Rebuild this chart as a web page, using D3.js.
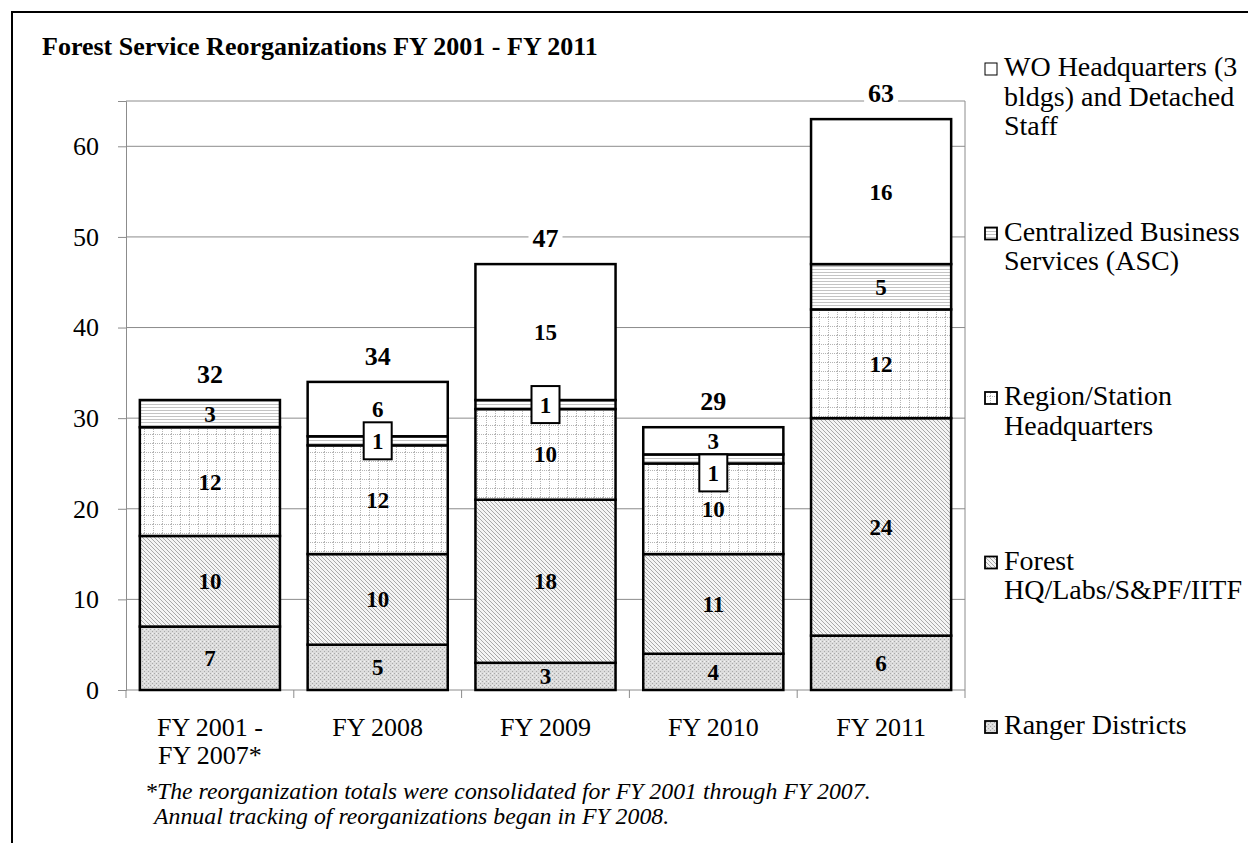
<!DOCTYPE html>
<html>
<head>
<meta charset="utf-8">
<script src="https://cdn.jsdelivr.net/npm/d3@7"></script>
<style>
  body { margin: 0; background: #fff; }
  text { font-family: "Liberation Serif", "Times New Roman", serif; }
</style>
</head>
<body>
<svg id="chart" width="1248" height="843"></svg>
<script>
// data, bottom to top
const years = ["FY 2001 - FY 2007*", "FY 2008", "FY 2009", "FY 2010", "FY 2011"];
const seriesNames = ["Ranger Districts", "Forest HQ/Labs/S&PF/IITF", "Region/Station Headquarters",
                     "Centralized Business Services (ASC)", "WO Headquarters (3 bldgs) and Detached Staff"];
const ranger = [7, 5, 3, 4, 6];
const forest = [10, 10, 18, 11, 24];
const region = [12, 12, 10, 10, 12];
const asc    = [3, 1, 1, 1, 5];
const wo     = [0, 6, 15, 3, 16];
const yTicks = [0, 10, 20, 30, 40, 50, 60];

const keys = ["ranger", "forest", "region", "asc", "wo"];
const table = years.map((y, i) => ({year: y, ranger: ranger[i], forest: forest[i], region: region[i], asc: asc[i], wo: wo[i]}));

const width = 1248, height = 843;
const margin = {left: 126, top: 101, right: 283, bottom: 153};
const plotW = width - margin.left - margin.right;
const plotH = height - margin.top - margin.bottom;

const svg = d3.select("#chart");

// fill patterns (grey hatches like the office chart)
const defs = svg.append("defs");
let p = defs.append("pattern").attr("id", "p-ranger").attr("patternUnits", "userSpaceOnUse").attr("width", 4).attr("height", 4);
p.append("rect").attr("width", 4).attr("height", 4).attr("fill", "#dcdcdc");
p.append("rect").attr("x", 0).attr("y", 0).attr("width", 1).attr("height", 1).attr("fill", "#a8a8a8");
p.append("rect").attr("x", 2).attr("y", 2).attr("width", 1).attr("height", 1).attr("fill", "#a8a8a8");
p.append("rect").attr("x", 2).attr("y", 0).attr("width", 1).attr("height", 1).attr("fill", "#f4f4f4");

p = defs.append("pattern").attr("id", "p-forest").attr("patternUnits", "userSpaceOnUse").attr("width", 4).attr("height", 4);
p.append("rect").attr("width", 4).attr("height", 4).attr("fill", "#f4f4f4");
p.append("path").attr("d", "M0,0L4,4M-1,3L1,5M3,-1L5,1").attr("stroke", "#a8a8a8").attr("stroke-width", 1);

p = defs.append("pattern").attr("id", "p-region").attr("patternUnits", "userSpaceOnUse").attr("width", 9).attr("height", 9);
p.append("rect").attr("width", 9).attr("height", 9).attr("fill", "#fff");
p.append("path").attr("d", "M0.5,0V9M0,0.5H9").attr("stroke", "#b4b4b4").attr("stroke-width", 1).attr("stroke-dasharray", "1,1");

p = defs.append("pattern").attr("id", "p-asc").attr("patternUnits", "userSpaceOnUse").attr("width", 4).attr("height", 3);
p.append("rect").attr("width", 4).attr("height", 3).attr("fill", "#fff");
p.append("path").attr("d", "M0,0.5H4").attr("stroke", "#c4c4c4").attr("stroke-width", 1);

const fills = {ranger: "url(#p-ranger)", forest: "url(#p-forest)", region: "url(#p-region)", asc: "url(#p-asc)", wo: "#fff"};

// outer frame
svg.append("path").attr("d", "M12," + (height + 5) + "V12H" + (width + 5))
  .attr("fill", "none").attr("stroke", "#000").attr("stroke-width", 2);

// title
svg.append("text").attr("x", 42).attr("y", 55)
  .attr("font-size", 26).attr("font-weight", "bold")
  .text("Forest Service Reorganizations FY 2001 - FY 2011");

const g = svg.append("g").attr("transform", `translate(${margin.left},${margin.top})`);

const x = d3.scaleBand().domain(years).range([0, plotW]).paddingInner(0.165).paddingOuter(0.0825);
const y = d3.scaleLinear().domain([0, 65]).range([plotH, 0]);

// gridlines
g.append("g").selectAll("line").data(yTicks.filter(d => d > 0)).join("line")
  .attr("x1", 0).attr("x2", plotW).attr("y1", d => y(d)).attr("y2", d => y(d))
  .attr("stroke", "#8c8c8c").attr("stroke-width", 1);

// plot frame top/right
g.append("path").attr("d", `M0,0H${plotW}V${plotH}`).attr("fill", "none").attr("stroke", "#8c8c8c").attr("stroke-width", 1);

// y axis
const yAxis = g.append("g").call(d3.axisLeft(y).tickValues(yTicks).tickSize(8).tickPadding(19));
yAxis.select(".domain").attr("stroke", "#8c8c8c");
yAxis.selectAll(".tick line").attr("stroke", "#8c8c8c");
yAxis.selectAll("text").attr("font-size", 26).attr("fill", "#000");

// x axis
g.append("line").attr("x1", 0).attr("x2", plotW).attr("y1", plotH).attr("y2", plotH).attr("stroke", "#8c8c8c");
const step = x.step();
g.append("g").selectAll("line").data(d3.range(years.length + 1)).join("line")
  .attr("x1", i => i * step).attr("x2", i => i * step)
  .attr("y1", plotH).attr("y2", plotH + 8).attr("stroke", "#8c8c8c");

const xl = g.append("g").selectAll("text").data(years).join("text")
  .attr("x", d => x(d) + x.bandwidth() / 2).attr("y", plotH + 46)
  .attr("text-anchor", "middle").attr("font-size", 26);
xl.each(function(d) {
  const t = d3.select(this);
  if (d.indexOf(" - ") >= 0) {
    const parts = d.split(" - ");
    t.append("tspan").attr("x", x(d) + x.bandwidth() / 2).attr("dy", 0).text(parts[0] + " -");
    t.append("tspan").attr("x", x(d) + x.bandwidth() / 2).attr("dy", 28).text(parts[1]);
  } else {
    t.text(d);
  }
});

// stacked bars
const stack = d3.stack().keys(keys)(table);
const layers = g.append("g").selectAll("g").data(stack).join("g").attr("fill", d => fills[d.key]);
layers.selectAll("rect").data(d => d.filter(s => s[1] - s[0] > 0)).join("rect")
  .attr("x", d => x(d.data.year)).attr("width", x.bandwidth())
  .attr("y", d => y(d[1])).attr("height", d => y(d[0]) - y(d[1]))
  .attr("stroke", "#000").attr("stroke-width", 2.5);

// segment labels; a one-unit slice gets a boxed label, pushed down if it hits the label above
const segG = g.append("g");
const boxW = 28, boxH = 37, fs = 23;
years.forEach((yr, i) => {
  const cx = x(yr) + x.bandwidth() / 2;
  const segs = stack.map(layer => layer[i]).filter(s => s[1] - s[0] > 0);
  segs.forEach((s, j) => {
    const v = s[1] - s[0];
    let cy = y((s[0] + s[1]) / 2);
    if (v === 1) {
      const above = segs[j + 1];
      if (above) {
        const aboveBottom = y((above[0] + above[1]) / 2) + 10;
        if (cy - boxH / 2 < aboveBottom) cy = y(s[1]) + boxH / 2;
      }
      segG.append("rect").attr("x", cx - boxW / 2).attr("y", cy - boxH / 2).attr("width", boxW).attr("height", boxH)
        .attr("fill", "#fff").attr("stroke", "#000").attr("stroke-width", 2);
    }
    segG.append("text").attr("x", cx).attr("y", cy + 8).attr("text-anchor", "middle")
      .attr("font-size", fs).attr("font-weight", "bold").text(v);
  });
});

// totals
const totals = table.map(d => ({year: d.year, total: keys.reduce((a, k) => a + d[k], 0)}));
const totG = g.append("g");
totals.forEach(d => {
  const cx = x(d.year) + x.bandwidth() / 2;
  const t = totG.append("text").attr("x", cx).attr("y", y(d.total) - 17)
    .attr("text-anchor", "middle").attr("font-size", 26).attr("font-weight", "bold").text(d.total);
  const bb = t.node().getBBox();
  totG.insert("rect", () => t.node()).attr("x", bb.x - 4).attr("y", bb.y + 3).attr("width", bb.width + 8).attr("height", bb.height - 6).attr("fill", "#fff");
});

// legend, top entry first
const legendLines = [
  ["WO Headquarters (3", "bldgs) and Detached", "Staff"],
  ["Centralized Business", "Services (ASC)"],
  ["Region/Station", "Headquarters"],
  ["Forest", "HQ/Labs/S&PF/IITF"],
  ["Ranger Districts"]
];
const legendKeys = ["wo", "asc", "region", "forest", "ranger"];
const lg = svg.append("g");
legendKeys.forEach((k, i) => {
  const ly = 76 + i * 164.5;
  lg.append("rect").attr("x", 985).attr("y", ly - 13).attr("width", 12).attr("height", 12)
    .attr("fill", fills[k]).attr("stroke", "#000").attr("stroke-width", k === "wo" ? 1 : 1.8);
  const t = lg.append("text").attr("x", 1004).attr("y", ly).attr("font-size", 28);
  legendLines[i].forEach((line, j) => {
    t.append("tspan").attr("x", 1004).attr("dy", j === 0 ? 0 : 29.5).text(line);
  });
});

// footnote
const fn = svg.append("text").attr("font-size", 23.8).attr("font-style", "italic");
fn.append("tspan").attr("x", 145).attr("y", 799).text("*The reorganization totals were consolidated for FY 2001 through FY 2007.");
fn.append("tspan").attr("x", 154).attr("y", 824).text("Annual tracking of reorganizations began in FY 2008.");
</script>
</body>
</html>
